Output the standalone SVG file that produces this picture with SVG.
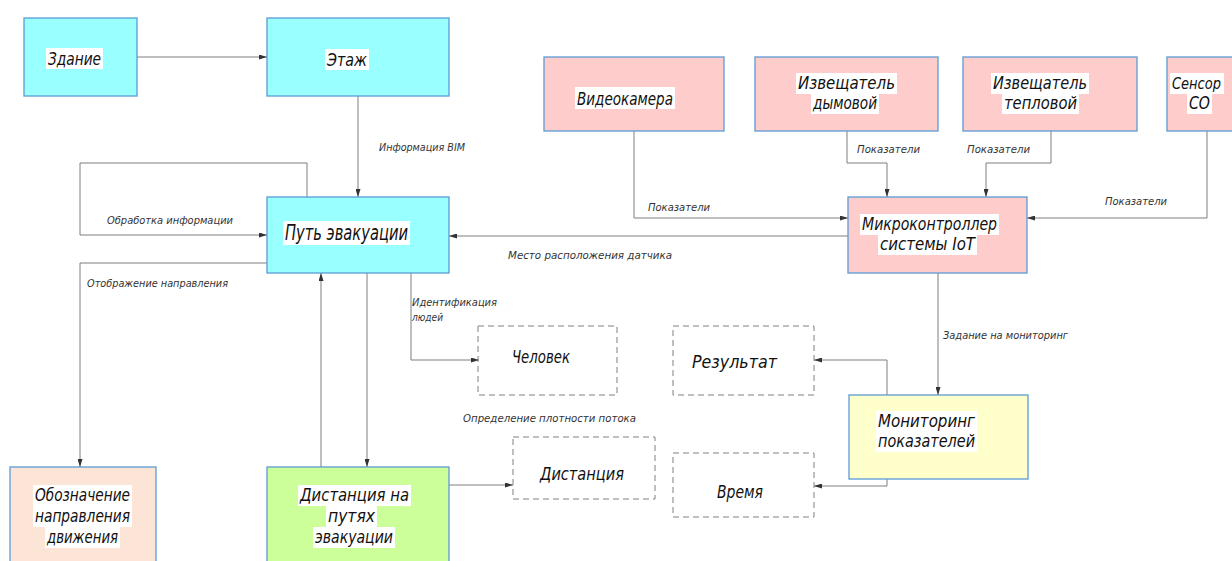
<svg xmlns="http://www.w3.org/2000/svg" width="1232" height="561" viewBox="0 0 1232 561">
<style>
.box{stroke:#5b9bd5;stroke-width:1.3}
.cyan{fill:#99ffff}
.pink{fill:#ffcccc}
.peach{fill:#fce4d6}
.green{fill:#ccff99}
.yellow{fill:#ffffcc}
.dash{fill:none;stroke:#808080;stroke-width:1;stroke-dasharray:6,4}
.bg{fill:#ffffff}
.t{font-family:"DejaVu Sans",sans-serif;font-style:italic;font-size:18px;fill:#111}
.s{font-family:"DejaVu Sans",sans-serif;font-style:italic;font-size:10.5px;fill:#333}
.c{fill:none;stroke:#7f7f7f;stroke-width:1}
</style>
<defs>
<marker id="a" markerWidth="8" markerHeight="5" refX="8" refY="2.5" orient="auto" markerUnits="userSpaceOnUse">
<path d="M0,0 L8,2.5 L0,5 z" fill="#333"/>
</marker>
</defs>
<rect width="1232" height="561" fill="#ffffff"/>

<g id="connectors">
<path class="c" d="M137,57 H267" marker-end="url(#a)"/>
<path class="c" d="M358,96 V197" marker-end="url(#a)"/>
<path class="c" d="M307,197 V163 H80 V235 H267" marker-end="url(#a)"/>
<path class="c" d="M267,263 H80 V467" marker-end="url(#a)"/>
<path class="c" d="M321,467 V273" marker-end="url(#a)"/>
<path class="c" d="M367,273 V467" marker-end="url(#a)"/>
<path class="c" d="M411,273 V360 H479" marker-end="url(#a)"/>
<path class="c" d="M449,485 H513" marker-end="url(#a)"/>
<path class="c" d="M634,131 V218 H848" marker-end="url(#a)"/>
<path class="c" d="M847,131 V163 H887 V197" marker-end="url(#a)"/>
<path class="c" d="M1051,131 V163 H986 V197" marker-end="url(#a)"/>
<path class="c" d="M1207,131 V218 H1027" marker-end="url(#a)"/>
<path class="c" d="M848,236 H449" marker-end="url(#a)"/>
<path class="c" d="M938,273 V395" marker-end="url(#a)"/>
<path class="c" d="M887,395 V360 H814" marker-end="url(#a)"/>
<path class="c" d="M887,479 V486 H814" marker-end="url(#a)"/>
<text class="s" x="379" y="151" textLength="86" lengthAdjust="spacingAndGlyphs">Информация BIM</text>
<text class="s" x="107" y="224" textLength="126" lengthAdjust="spacingAndGlyphs">Обработка информации</text>
<text class="s" x="87" y="287" textLength="141" lengthAdjust="spacingAndGlyphs">Отображение направления</text>
<text class="s" x="412" y="306" textLength="85" lengthAdjust="spacingAndGlyphs">Идентификация</text>
<text class="s" x="412" y="321" textLength="31" lengthAdjust="spacingAndGlyphs">людей</text>
<text class="s" x="508" y="259" textLength="164" lengthAdjust="spacingAndGlyphs">Место расположения датчика</text>
<text class="s" x="648" y="211" textLength="62" lengthAdjust="spacingAndGlyphs">Показатели</text>
<text class="s" x="857" y="153" textLength="63" lengthAdjust="spacingAndGlyphs">Показатели</text>
<text class="s" x="967" y="153" textLength="63" lengthAdjust="spacingAndGlyphs">Показатели</text>
<text class="s" x="1105" y="205" textLength="62" lengthAdjust="spacingAndGlyphs">Показатели</text>
<text class="s" x="943" y="339" textLength="125" lengthAdjust="spacingAndGlyphs">Задание на мониторинг</text>
<text class="s" x="463" y="422" textLength="173" lengthAdjust="spacingAndGlyphs">Определение плотности потока</text>
</g>

<g id="zdanie">
<rect class="box cyan" x="24" y="18" width="113" height="78"/>
<rect class="bg" x="46" y="48" width="57" height="21"/>
<text class="t" x="48" y="65" textLength="53" lengthAdjust="spacingAndGlyphs">Здание</text>
</g>
<g id="etazh">
<rect class="box cyan" x="267" y="18" width="182" height="78"/>
<rect class="bg" x="325" y="49" width="44" height="21"/>
<text class="t" x="327" y="66" textLength="40" lengthAdjust="spacingAndGlyphs">Этаж</text>
</g>
<g id="put">
<rect class="box cyan" x="267" y="197" width="182" height="76"/>
<rect class="bg" x="283" y="221" width="127" height="24"/>
<text class="t" x="285" y="240" textLength="123" lengthAdjust="spacingAndGlyphs" style="font-size:21px">Путь эвакуации</text>
</g>
<g id="videokamera">
<rect class="box pink" x="544" y="57" width="180" height="74"/>
<rect class="bg" x="575" y="87" width="100" height="22"/>
<text class="t" x="577" y="105" textLength="96" lengthAdjust="spacingAndGlyphs">Видеокамера</text>
</g>
<g id="dymovoi">
<rect class="box pink" x="755" y="57" width="183" height="74"/>
<rect class="bg" x="796" y="73" width="101" height="21"/>
<rect class="bg" x="811" y="94" width="68" height="20"/>
<text class="t" x="798" y="89" textLength="97" lengthAdjust="spacingAndGlyphs">Извещатель</text>
<text class="t" x="813" y="109" textLength="64" lengthAdjust="spacingAndGlyphs">дымовой</text>
</g>
<g id="teplovoi">
<rect class="box pink" x="963" y="57" width="174" height="74"/>
<rect class="bg" x="991" y="73" width="98" height="21"/>
<rect class="bg" x="1002" y="94" width="77" height="20"/>
<text class="t" x="993" y="89" textLength="94" lengthAdjust="spacingAndGlyphs">Извещатель</text>
<text class="t" x="1004" y="109" textLength="73" lengthAdjust="spacingAndGlyphs">тепловой</text>
</g>
<g id="sensor">
<rect class="box pink" x="1167" y="57" width="66" height="74"/>
<rect class="bg" x="1170" y="73" width="54" height="21"/>
<rect class="bg" x="1187" y="94" width="25" height="20"/>
<text class="t" x="1172" y="89" textLength="49" lengthAdjust="spacingAndGlyphs" style="font-size:15px">Сенсор</text>
<text class="t" x="1189" y="109" textLength="21" lengthAdjust="spacingAndGlyphs">CO</text>
</g>
<g id="mikrokontroller">
<rect class="box pink" x="848" y="197" width="179" height="76"/>
<rect class="bg" x="860" y="214" width="139" height="21"/>
<rect class="bg" x="878" y="235" width="99" height="20"/>
<text class="t" x="862" y="230" textLength="135" lengthAdjust="spacingAndGlyphs">Микроконтроллер</text>
<text class="t" x="880" y="250" textLength="95" lengthAdjust="spacingAndGlyphs">системы IoT</text>
</g>
<g id="oboznachenie">
<rect class="box peach" x="10" y="467" width="146" height="110"/>
<rect class="bg" x="33" y="485" width="99" height="21"/>
<rect class="bg" x="33" y="506" width="99" height="21"/>
<rect class="bg" x="45" y="527" width="75" height="21"/>
<text class="t" x="35" y="501" textLength="95" lengthAdjust="spacingAndGlyphs">Обозначение</text>
<text class="t" x="35" y="522" textLength="95" lengthAdjust="spacingAndGlyphs">направления</text>
<text class="t" x="47" y="543" textLength="71" lengthAdjust="spacingAndGlyphs">движения</text>
</g>
<g id="distanciya-na-putyakh">
<rect class="box green" x="267" y="467" width="182" height="110"/>
<rect class="bg" x="298" y="485" width="113" height="21"/>
<rect class="bg" x="326" y="506" width="51" height="21"/>
<rect class="bg" x="313" y="527" width="82" height="21"/>
<text class="t" x="300" y="501" textLength="109" lengthAdjust="spacingAndGlyphs">Дистанция на</text>
<text class="t" x="328" y="522" textLength="47" lengthAdjust="spacingAndGlyphs">путях</text>
<text class="t" x="315" y="543" textLength="78" lengthAdjust="spacingAndGlyphs">эвакуации</text>
</g>
<g id="chelovek">
<rect class="dash" x="478" y="326" width="139" height="69"/>
<text class="t" x="512" y="363" textLength="58" lengthAdjust="spacingAndGlyphs">Человек</text>
</g>
<g id="rezultat">
<rect class="dash" x="673" y="326" width="141" height="69"/>
<text class="t" x="692" y="368" textLength="85" lengthAdjust="spacingAndGlyphs">Результат</text>
</g>
<g id="distanciya">
<rect class="dash" x="513" y="437" width="142" height="62"/>
<text class="t" x="540" y="480" textLength="84" lengthAdjust="spacingAndGlyphs">Дистанция</text>
</g>
<g id="vremya">
<rect class="dash" x="673" y="453" width="141" height="64"/>
<text class="t" x="717" y="498" textLength="46" lengthAdjust="spacingAndGlyphs">Время</text>
</g>
<g id="monitoring">
<rect class="box yellow" x="849" y="395" width="179" height="84"/>
<rect class="bg" x="876" y="411" width="101" height="21"/>
<rect class="bg" x="876" y="432" width="101" height="20"/>
<text class="t" x="878" y="427" textLength="97" lengthAdjust="spacingAndGlyphs">Мониторинг</text>
<text class="t" x="878" y="447" textLength="97" lengthAdjust="spacingAndGlyphs">показателей</text>
</g>
</svg>
